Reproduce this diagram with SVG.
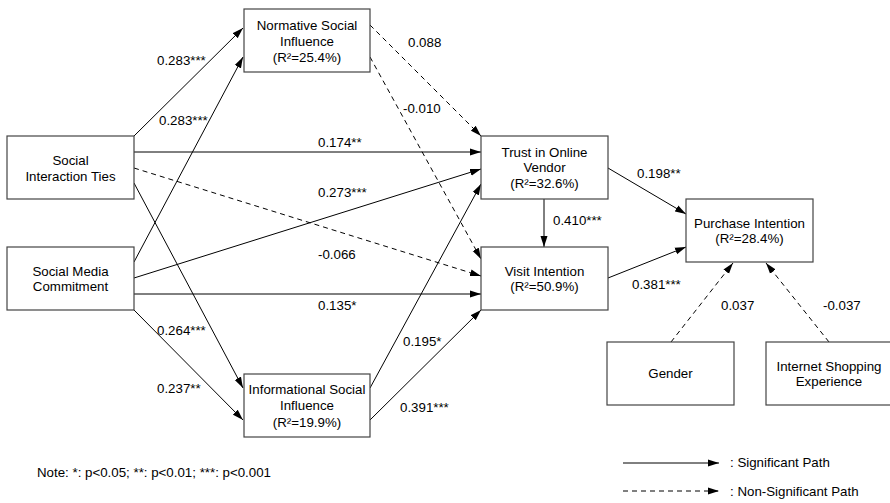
<svg xmlns="http://www.w3.org/2000/svg" width="890" height="503" viewBox="0 0 890 503">
<defs>
<style>
.box{fill:#fff;stroke:#444;stroke-width:1.2}
.t{font-family:"Liberation Sans",Arial,sans-serif;font-size:13.3px;fill:#000}
.c{text-anchor:middle}
.e{stroke:#000;stroke-width:1;fill:none}
.d{stroke-dasharray:5,4}
</style>
<marker id="ah" markerUnits="userSpaceOnUse" markerWidth="12" markerHeight="8" refX="11" refY="4" orient="auto">
<path d="M0,0.5 L11,4 L0,7.5 z" fill="#000"/>
</marker>
</defs>
<rect width="890" height="503" fill="#fff"/>
<g id="connectors">
<line class="e" x1="134" y1="136" x2="243" y2="28" marker-end="url(#ah)"/>
<line class="e" x1="134" y1="262" x2="243" y2="57" marker-end="url(#ah)"/>
<line class="e" x1="134" y1="152" x2="481" y2="152" marker-end="url(#ah)"/>
<line class="e d" x1="134" y1="168" x2="481" y2="276" marker-end="url(#ah)"/>
<line class="e" x1="134" y1="183" x2="243" y2="388" marker-end="url(#ah)"/>
<line class="e" x1="134" y1="278" x2="481" y2="169" marker-end="url(#ah)"/>
<line class="e" x1="134" y1="294" x2="481" y2="294" marker-end="url(#ah)"/>
<line class="e" x1="134" y1="310" x2="243" y2="420" marker-end="url(#ah)"/>
<line class="e d" x1="370" y1="25" x2="481" y2="136" marker-end="url(#ah)"/>
<line class="e d" x1="370" y1="57" x2="481" y2="259" marker-end="url(#ah)"/>
<line class="e" x1="370" y1="388" x2="481" y2="184" marker-end="url(#ah)"/>
<line class="e" x1="370" y1="420" x2="481" y2="310" marker-end="url(#ah)"/>
<line class="e" x1="544" y1="199" x2="544" y2="247" marker-end="url(#ah)"/>
<line class="e" x1="608" y1="168" x2="686" y2="214" marker-end="url(#ah)"/>
<line class="e" x1="608" y1="278" x2="686" y2="247" marker-end="url(#ah)"/>
<line class="e d" x1="671" y1="342" x2="733" y2="263" marker-end="url(#ah)"/>
<line class="e d" x1="829" y1="342" x2="766" y2="263" marker-end="url(#ah)"/>
<line class="e" x1="623" y1="463" x2="719" y2="463" marker-end="url(#ah)"/>
<line class="e d" x1="623" y1="491" x2="719" y2="491" marker-end="url(#ah)"/>
</g>
<g id="labels" class="t">
<text x="157" y="65">0.283***</text>
<text x="159" y="125">0.283***</text>
<text x="408" y="47">0.088</text>
<text x="403" y="113">-0.010</text>
<text x="318" y="147">0.174**</text>
<text x="318" y="197">0.273***</text>
<text x="318" y="259">-0.066</text>
<text x="318" y="310">0.135*</text>
<text x="157" y="335">0.264***</text>
<text x="157" y="393">0.237**</text>
<text x="403" y="346">0.195*</text>
<text x="400" y="412">0.391***</text>
<text x="637" y="178">0.198**</text>
<text x="553" y="225">0.410***</text>
<text x="632" y="289">0.381***</text>
<text x="721" y="310">0.037</text>
<text x="823" y="310">-0.037</text>
<text x="37" y="477">Note: *: p&lt;0.05; **: p&lt;0.01; ***: p&lt;0.001</text>
<text x="730" y="467">: Significant Path</text>
<text x="730" y="496">: Non-Significant Path</text>
</g>
<g id="nsi">
<rect class="box" x="244" y="9" width="126" height="63"/>
<text class="t c" x="307" y="30">Normative Social</text>
<text class="t c" x="307" y="46">Influence</text>
<text class="t c" x="307" y="62">(R²=25.4%)</text>
</g>
<g id="sit">
<rect class="box" x="7" y="136" width="127" height="63"/>
<text class="t c" x="70.5" y="165">Social</text>
<text class="t c" x="70.5" y="181">Interaction Ties</text>
</g>
<g id="smc">
<rect class="box" x="7" y="247" width="127" height="63"/>
<text class="t c" x="70.5" y="276">Social Media</text>
<text class="t c" x="70.5" y="291">Commitment</text>
</g>
<g id="isi">
<rect class="box" x="244" y="374" width="126" height="63"/>
<text class="t c" x="307" y="394">Informational Social</text>
<text class="t c" x="307" y="410">Influence</text>
<text class="t c" x="307" y="427">(R²=19.9%)</text>
</g>
<g id="tov">
<rect class="box" x="481" y="136" width="127" height="63"/>
<text class="t c" x="544.5" y="157">Trust in Online</text>
<text class="t c" x="544.5" y="172">Vendor</text>
<text class="t c" x="544.5" y="188">(R²=32.6%)</text>
</g>
<g id="vi">
<rect class="box" x="481" y="247" width="127" height="63"/>
<text class="t c" x="544.5" y="276">Visit Intention</text>
<text class="t c" x="544.5" y="291">(R²=50.9%)</text>
</g>
<g id="pi">
<rect class="box" x="686" y="199" width="127" height="63"/>
<text class="t c" x="749.5" y="228">Purchase Intention</text>
<text class="t c" x="749.5" y="243">(R²=28.4%)</text>
</g>
<g id="gender">
<rect class="box" x="607" y="342" width="127" height="63"/>
<text class="t c" x="670.5" y="378">Gender</text>
</g>
<g id="ise">
<rect class="box" x="766" y="342" width="127" height="63"/>
<text class="t c" x="829" y="371">Internet Shopping</text>
<text class="t c" x="829" y="386">Experience</text>
</g>
</svg>
